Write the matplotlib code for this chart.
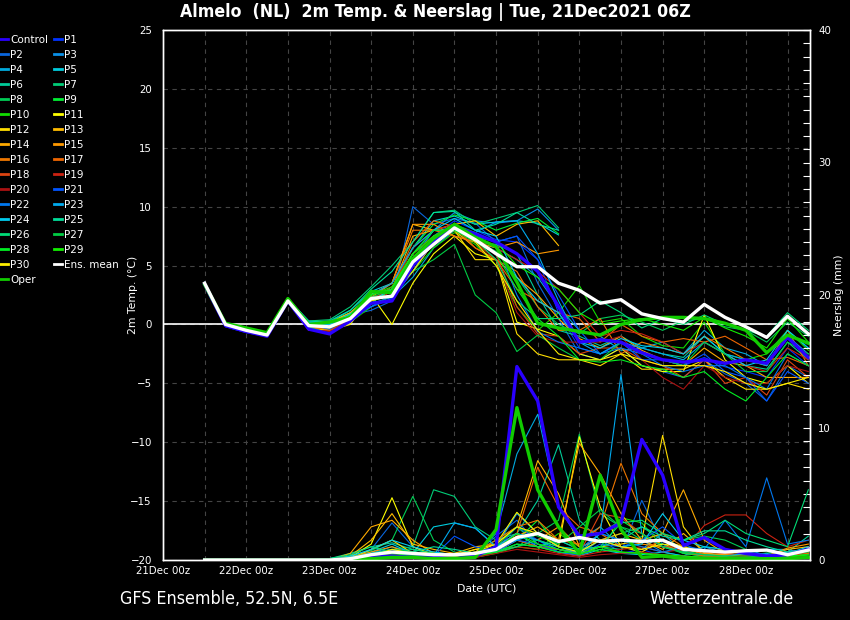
import numpy as np
import matplotlib
matplotlib.use('Agg')
import matplotlib.pyplot as plt
from matplotlib.lines import Line2D
from matplotlib.ticker import MultipleLocator

# tijd in dagen vanaf 21Dec 00z, 6-uurlijkse stappen (21Dec 12z .. 28Dec 18z)
t = 0.5 + 0.25 * np.arange(30)

day_labels = ['21Dec 00z', '22Dec 00z', '23Dec 00z', '24Dec 00z',
              '25Dec 00z', '26Dec 00z', '27Dec 00z', '28Dec 00z']

names = ['Control'] + ['P%d' % i for i in range(1, 31)]
colors = ['#2a00ff', '#0033ff', '#0a66dd', '#0a90e8', '#00aadd', '#00ccdd',
          '#00cc99', '#00cc77', '#00cc55', '#00ee33', '#11dd00', '#ffff00',
          '#ffdd00', '#ffbb00', '#ffaa00', '#ff9900', '#ee7700', '#ee6600',
          '#dd4411', '#cc2211', '#aa1111', '#0055ff', '#0077ee', '#00aaee',
          '#00ccee', '#00dd99', '#00dd77', '#00cc44', '#00ee22', '#11ee00',
          '#ffee00']

# 2m temperatuur (graden C)
t_ctrl = [3.4, -0.1, -0.6, -1.0, 2.0, -0.4, -0.8, 0.3, 1.8, 2.0, 5.0, 7.0, 8.3, 7.7, 7.0, 6.0, 4.5, 1.5, -1.5, -1.3, -1.5, -2.4, -3.0, -3.2, -3.0, -3.3, -3.0, -3.3, -1.1, -2.8]
t_p01 = [3.5, -0.2, -0.7, -1.0, 2.0, -0.2, -0.3, 0.5, 1.5, 2.2, 4.5, 7.5, 8.8, 8.0, 7.2, 7.0, 5.5, 1.0, -2.0, -2.5, -1.6, -2.4, -3.0, -3.5, -2.8, -3.6, -4.0, -4.5, -2.0, -3.5]
t_p02 = [3.5, 0.0, -0.5, -0.9, 2.1, 0.2, 0.0, 0.8, 1.2, 2.0, 10.0, 8.5, 9.0, 8.6, 7.0, 7.5, 3.5, 0.5, -2.5, -3.0, -2.0, -3.5, -4.0, -4.5, -3.0, -4.2, -5.0, -6.5, -3.5, -4.5]
t_p03 = [3.6, 0.1, -0.4, -0.8, 2.2, 0.3, 0.2, 1.0, 2.5, 3.0, 5.5, 8.0, 9.5, 8.8, 8.6, 8.8, 9.8, 8.0]
t_p04 = [3.5, 0.0, -0.6, -1.0, 2.0, 0.0, -0.2, 0.7, 1.8, 2.3, 4.0, 6.5, 8.0, 7.0, 6.5, 5.5, 4.0, 1.5, -0.5, -1.0, -2.2, -2.0, -1.5, -2.5, -0.5, -2.0, -2.5, -3.5, -0.5, -2.0]
t_p05 = [3.5, 0.1, -0.4, -0.7, 2.2, 0.2, 0.3, 1.2, 2.8, 3.5, 6.5, 8.8, 9.2, 8.5, 8.7, 8.8, 8.6, 7.6]
t_p06 = [3.4, 0.0, -0.5, -0.9, 2.0, 0.0, -0.3, 0.5, 2.0, 2.5, 5.5, 7.0, 8.0, 7.0, 6.8, 6.0, 2.5, -0.5, -1.0, -1.8, -1.0, -2.0, -2.5, -2.8, -1.0, -2.5, -3.5, -3.8, -1.5, -3.0]
t_p07 = [3.5, 0.1, -0.4, -0.8, 2.1, 0.3, 0.4, 1.5, 3.2, 5.0, 7.0, 9.5, 9.7, 8.5, 9.0, 9.5, 10.1, 8.2]
t_p08 = [3.5, 0.0, -0.5, -0.9, 2.1, 0.0, -0.5, 0.3, 2.2, 3.0, 6.0, 7.5, 8.5, 7.2, 6.2, 4.0, 1.5, 0.0, -0.8, 0.5, 0.8, 0.2, -0.5, 0.3, 0.5, -0.2, -0.5, -1.5, 0.2, -1.0]
t_p09 = [3.5, 0.0, -0.5, -0.9, 2.1, 0.1, 0.1, 1.0, 2.6, 3.0, 6.5, 8.5, 9.3, 8.8, 8.0, 8.6, 9.0, 7.7]
t_p10 = [3.4, 0.0, -0.6, -1.0, 2.0, -0.2, -0.6, 0.2, 1.5, 2.5, 4.5, 6.5, 7.8, 6.8, 5.0, 1.5, -0.5, 1.0, 3.3, 0.2, 0.5, -1.0, -1.8, -2.0, 0.2, -2.5, -3.0, -2.5, -0.5, -2.2]
t_p11 = [3.5, 0.0, -0.5, -0.9, 2.2, -0.3, -0.5, 0.0, 2.5, 0.0, 3.5, 6.0, 7.5, 6.0, 5.5, 0.2, -0.4, -1.0, -2.5, -3.0, -2.0, -3.5, -4.0, -4.0, 0.8, -3.0, -4.5, -5.0, -3.5, -5.0]
t_p12 = [3.5, 0.1, -0.4, -0.8, 2.1, -0.2, 0.2, 0.8, 2.0, 2.8, 4.5, 7.0, 8.0, 5.5, 5.5, -0.8, -2.5, -3.0, -3.0, -3.5, -2.5, -3.8, -3.8, -3.8, -3.0, -4.5, -5.5, -5.5, -5.0, -5.5]
t_p13 = [3.5, 0.0, -0.5, -0.9, 2.1, 0.0, 0.2, 1.0, 2.5, 3.5, 8.5, 8.0, 8.5, 8.8, 7.5, 8.5, 8.8, 6.7]
t_p14 = [3.5, 0.1, -0.5, -0.9, 2.0, 0.0, -0.2, 0.8, 2.0, 3.0, 7.5, 8.0, 8.0, 6.5, 5.5, 4.0, 2.5, 0.5, -1.2, -2.0, -1.0, -2.2, -3.0, -3.5, -2.0, -3.2, -3.5, -4.5, -4.5, -4.5]
t_p15 = [3.5, 0.0, -0.5, -0.9, 2.0, 0.1, 0.0, 0.8, 2.3, 3.5, 8.5, 8.5, 7.5, 7.0, 6.5, 7.0, 6.0, 6.3]
t_p16 = [3.5, 0.0, -0.5, -0.9, 2.0, -0.3, -0.4, 0.5, 2.5, 3.5, 8.0, 8.0, 7.5, 7.0, 5.5, 4.5, 1.5, -0.5, -0.5, 0.5, -2.5, -1.5, -2.0, -2.5, -1.0, -2.0, -3.0, -3.5, -0.5, -3.5]
t_p17 = [3.5, 0.0, -0.4, -0.8, 2.1, -0.3, -0.2, 0.8, 2.0, 3.0, 7.0, 8.8, 8.3, 6.5, 5.5, 3.0, 2.0, 1.0, 0.5, -1.5, 0.0, -1.0, -1.5, -1.2, -1.5, -1.0, -2.0, -3.0, -2.8, -3.5]
t_p18 = [3.5, 0.0, -0.5, -0.9, 2.0, -0.5, -0.5, 0.4, 2.0, 3.2, 6.0, 7.5, 8.0, 7.5, 6.0, 1.5, -0.8, -1.0, -2.5, -2.0, -2.0, -3.0, -3.5, -4.5, -3.0, -5.0, -4.5, -6.0, -3.0, -4.5]
t_p19 = [3.5, 0.0, -0.5, -0.9, 2.0, 0.0, -0.3, 0.6, 2.2, 3.0, 6.5, 8.0, 8.5, 7.5, 6.5, 5.5, 4.5, 3.0, 1.0, -1.0, -0.5, -0.8, -1.5, -2.5, -1.5, -2.5, -3.5, -4.0, -2.0, -3.0]
t_p20 = [3.5, 0.0, -0.5, -0.9, 2.0, -0.4, -0.6, 0.3, 2.0, 2.8, 6.0, 7.5, 8.5, 7.0, 5.5, 1.0, -1.0, -1.5, -1.5, -1.5, -1.0, -3.0, -4.5, -5.5, -3.5, -4.5, -5.0, -5.0, -3.5, -4.0]
t_p21 = [3.5, 0.0, -0.5, -0.9, 2.0, 0.0, -0.4, 0.6, 1.5, 2.2, 4.5, 7.0, 8.5, 7.5, 7.0, 7.5, 5.5, 2.5, -0.5, -2.5, -1.5, -3.0, -3.0, -3.5, -2.5, -4.0, -4.5, -6.5, -4.0, -5.0]
t_p22 = [3.5, 0.0, -0.5, -0.9, 2.0, 0.2, 0.0, 0.7, 1.5, 2.5, 5.0, 7.5, 8.5, 7.5, 7.0, 2.5, -0.6, -1.5, -2.0, -2.5, -2.0, -2.5, -3.5, -4.0, -3.5, -3.5, -4.5, -5.5, -2.5, -3.5]
t_p23 = [3.5, 0.0, -0.5, -0.9, 2.0, 0.0, -0.2, 0.8, 2.5, 3.5, 6.5, 8.0, 8.0, 7.8, 8.7, 8.8, 6.0, 2.0, -1.5, -2.5, -1.5, -2.0, -2.5, -3.0, -1.5, -2.5, -3.0, -3.5, -1.0, -2.5]
t_p24 = [3.5, 0.0, -0.5, -0.9, 2.0, 0.1, 0.0, 0.9, 2.0, 3.0, 6.0, 8.0, 9.0, 8.0, 7.5, 4.0, 2.0, 1.0, -1.5, -2.0, -1.2, -1.8, -2.0, -2.5, -1.0, -2.5, -3.5, -3.0, -0.5, -2.0]
t_p25 = [3.5, 0.0, -0.5, -0.9, 2.0, 0.2, 0.2, 1.2, 3.0, 4.5, 7.0, 9.5, 9.6, 8.0, 8.5, 9.5, 8.5, 8.0]
t_p26 = [3.5, 0.0, -0.5, -0.9, 2.0, -0.2, -0.8, 0.3, 1.8, 3.0, 5.5, 7.0, 8.0, 7.2, 5.5, 2.0, 0.5, 0.5, 0.8, 2.0, 1.0, -0.3, 0.5, 0.0, 0.8, 0.0, -0.5, -1.0, 1.0, -0.5]
t_p27 = [3.5, 0.0, -0.5, -0.9, 2.0, 0.0, -0.3, 0.6, 2.3, 3.0, 4.5, 5.5, 6.8, 2.5, 1.0, -2.3, -0.9, -2.0, -3.0, -3.0, -1.5, -2.5, -3.0, -3.5, -1.5, -2.5, -4.0, -4.0, -1.5, -2.5]
t_p28 = [3.5, 0.0, -0.5, -0.9, 2.0, 0.0, -0.2, 0.7, 2.5, 3.0, 6.0, 8.0, 8.0, 7.0, 6.0, 3.0, 0.5, -1.0, -3.0, -3.2, -3.0, -3.5, -3.8, -4.5, -4.0, -5.5, -6.5, -4.5, -2.5, -3.5]
t_p29 = [3.5, 0.0, -0.5, -0.9, 2.0, 0.0, -0.2, 0.8, 2.5, 3.2, 6.0, 7.5, 8.5, 7.8, 7.0, 5.0, 4.0, 3.0, 1.0, 0.0, 0.3, 0.5, 0.0, -0.5, 0.6, -0.3, -1.0, -2.0, 0.5, -1.5]
t_p30 = [3.5, 0.0, -0.5, -0.9, 2.0, 0.0, -0.3, 0.5, 2.0, 2.5, 4.5, 7.0, 8.5, 7.0, 5.0, 2.0, -0.5, -2.5, -3.0, -3.0, -2.5, -3.0, -3.5, -3.5, -3.5, -4.0, -5.0, -5.5, -5.0, -4.5]
t_mean = [3.5, 0.0, -0.5, -0.9, 2.0, -0.1, -0.2, 0.5, 2.2, 2.4, 5.3, 6.8, 8.2, 7.2, 6.0, 4.9, 4.9, 3.5, 2.9, 1.8, 2.1, 0.9, 0.5, 0.2, 1.7, 0.6, -0.2, -1.1, 0.7, -0.8]
t_oper = [3.4, 0.1, -0.3, -0.7, 2.2, 0.0, 0.2, 0.6, 2.8, 2.7, 5.6, 7.3, 8.5, 7.4, 6.6, 3.6, 0.1, -0.3, -0.6, -0.9, 0.0, 0.4, 0.6, 0.6, 0.5, 0.1, -0.5, -2.4, -0.9, -1.6]

# neerslag (mm per 6 uur)
p_ctrl = [0, 0, 0, 0, 0, 0, 0, 0.1, 0.2, 0.3, 0.2, 0.2, 0.1, 0.3, 1.0, 14.6, 12.0, 4.0, 1.8, 2.0, 2.8, 9.1, 6.4, 1.1, 1.7, 0.8, 0.5, 0.3, 0.4, 0.8]
p_p01 = [0, 0, 0, 0, 0, 0, 0, 0, 0.2, 0.5, 0.3, 0.2, 0.1, 0.3, 0.8, 2.5, 1.5, 0.6, 0.3, 1.0, 0.5, 0.8, 0.3, 0.2, 0.1, 0.2, 0.1, 0.3, 0.2, 0.4]
p_p02 = [0, 0, 0, 0, 0, 0, 0, 0.1, 0.8, 2.8, 1.0, 0.3, 0.2, 0.5, 1.8, 3.0, 1.2, 0.8, 0.4, 1.5, 0.6, 4.5, 1.2, 0.5, 0.3, 0.3, 0.4, 0.2, 0.3, 0.5]
p_p03 = [0, 0, 0, 0, 0, 0, 0, 0, 0.3, 0.6, 0.4, 0.3, 0.2, 0.4, 1.0, 3.5, 2.0, 1.5, 0.8, 2.0, 1.5, 1.5, 0.6, 0.3, 1.0, 0.5, 0.3, 0.8, 0.8, 0.4]
p_p04 = [0, 0, 0, 0, 0, 0, 0.1, 0.3, 0.5, 1.0, 0.6, 0.4, 0.3, 0.5, 2.0, 8.0, 11.0, 4.0, 1.5, 2.5, 1.0, 0.8, 2.0, 0.6, 0.3, 0.4, 0.3, 0.5, 0.2, 0.6]
p_p05 = [0, 0, 0, 0, 0, 0, 0, 0.2, 0.6, 1.2, 0.5, 2.5, 2.8, 2.4, 1.0, 2.0, 1.0, 0.6, 0.3, 0.8, 0.5, 0.4, 0.6, 0.3, 0.2, 0.3, 0.2, 0.1, 0.2, 0.4]
p_p06 = [0, 0, 0, 0, 0, 0, 0.1, 0.5, 1.0, 1.3, 0.8, 0.5, 0.4, 0.6, 1.5, 2.0, 4.5, 8.7, 3.0, 1.5, 2.0, 2.5, 1.5, 0.6, 1.0, 0.8, 0.5, 0.4, 0.6, 1.8]
p_p07 = [0, 0, 0, 0, 0, 0, 0, 0.2, 0.5, 0.8, 1.0, 5.3, 4.8, 2.5, 1.5, 2.5, 1.2, 0.8, 0.6, 1.0, 0.8, 1.8, 1.2, 0.5, 0.3, 0.8, 0.5, 0.3, 0.4, 0.6]
p_p08 = [0, 0, 0, 0, 0, 0, 0, 0.3, 0.7, 1.5, 4.8, 1.5, 0.6, 0.4, 0.8, 1.0, 2.0, 3.0, 9.5, 3.5, 2.5, 1.5, 2.0, 1.5, 1.8, 1.5, 0.8, 0.6, 0.5, 0.8]
p_p09 = [0, 0, 0, 0, 0, 0, 0, 0.1, 0.4, 0.6, 0.4, 0.3, 0.2, 0.3, 0.6, 1.5, 3.0, 1.0, 0.5, 2.0, 3.0, 2.0, 1.0, 0.5, 0.3, 0.4, 0.3, 0.2, 0.3, 0.4]
p_p10 = [0, 0, 0, 0, 0, 0, 0, 0.1, 0.3, 0.5, 0.3, 0.2, 0.2, 0.2, 0.5, 1.0, 0.8, 2.0, 1.0, 0.6, 3.2, 2.8, 1.0, 0.6, 0.5, 0.3, 0.2, 0.2, 0.3, 0.5]
p_p11 = [0, 0, 0, 0, 0, 0, 0, 0.2, 1.2, 4.7, 1.0, 0.4, 0.3, 0.8, 1.2, 3.6, 2.0, 1.0, 9.3, 4.0, 1.0, 0.6, 1.5, 1.0, 0.4, 0.8, 0.5, 0.3, 0.4, 0.6]
p_p12 = [0, 0, 0, 0, 0, 0, 0, 0.1, 0.8, 1.5, 0.5, 0.6, 0.4, 0.8, 0.6, 1.5, 1.0, 0.8, 0.5, 1.0, 1.2, 1.5, 9.4, 2.5, 0.5, 0.3, 0.4, 0.2, 0.3, 0.6]
p_p13 = [0, 0, 0, 0, 0, 0, 0, 0.3, 1.5, 3.5, 1.2, 0.8, 0.5, 1.0, 1.2, 2.5, 7.5, 5.0, 1.0, 1.5, 2.0, 1.5, 0.8, 2.0, 0.6, 0.5, 0.3, 0.3, 0.8, 1.0]
p_p14 = [0, 0, 0, 0, 0, 0, 0, 0.5, 2.5, 3.0, 1.5, 0.5, 0.3, 0.6, 1.0, 1.8, 2.5, 1.5, 8.8, 6.5, 3.5, 1.5, 2.0, 5.3, 1.5, 0.5, 0.3, 0.2, 0.6, 0.8]
p_p15 = [0, 0, 0, 0, 0, 0, 0, 0.2, 0.6, 1.0, 0.4, 0.3, 0.2, 0.5, 1.0, 2.0, 1.5, 2.5, 1.0, 1.5, 1.5, 1.2, 1.0, 0.8, 0.5, 0.4, 0.5, 0.3, 0.9, 1.2]
p_p16 = [0, 0, 0, 0, 0, 0, 0, 0.1, 0.4, 0.6, 0.3, 0.2, 0.2, 0.6, 1.5, 2.5, 3.0, 1.5, 1.2, 2.5, 7.3, 3.5, 2.0, 1.0, 0.4, 0.3, 0.2, 0.4, 0.5, 0.8]
p_p17 = [0, 0, 0, 0, 0, 0, 0, 0.1, 0.3, 0.5, 0.3, 0.2, 0.1, 0.4, 1.0, 2.0, 7.0, 4.0, 2.5, 2.0, 1.0, 0.8, 1.5, 0.6, 0.3, 0.2, 0.3, 0.2, 0.4, 0.5]
p_p18 = [0, 0, 0, 0, 0, 0, 0, 0.1, 0.2, 0.4, 0.2, 0.1, 0.1, 0.3, 0.8, 1.5, 1.0, 0.8, 0.5, 3.5, 3.2, 2.0, 1.0, 1.0, 0.6, 0.5, 0.3, 0.3, 0.2, 0.6]
p_p19 = [0, 0, 0, 0, 0, 0, 0, 0.1, 0.3, 0.5, 0.2, 0.1, 0.1, 0.2, 0.6, 1.0, 0.8, 0.5, 0.3, 0.6, 0.8, 1.0, 0.6, 0.8, 2.6, 3.4, 3.4, 2.0, 1.0, 1.5]
p_p20 = [0, 0, 0, 0, 0, 0, 0, 0, 0.1, 0.3, 0.2, 0.1, 0.1, 0.2, 0.5, 0.8, 0.6, 0.4, 0.2, 0.4, 0.5, 0.6, 0.4, 0.3, 0.2, 0.2, 0.3, 0.2, 0.2, 0.3]
p_p21 = [0, 0, 0, 0, 0, 0, 0, 0.1, 0.5, 0.8, 0.4, 0.3, 1.8, 1.0, 0.6, 1.5, 1.2, 0.6, 0.4, 1.2, 1.0, 1.5, 2.5, 1.2, 0.6, 0.8, 0.4, 0.3, 0.5, 0.8]
p_p22 = [0, 0, 0, 0, 0, 0, 0, 0.1, 0.4, 0.6, 0.3, 0.2, 0.2, 0.6, 1.0, 2.0, 1.5, 1.0, 0.8, 2.0, 1.5, 1.0, 0.6, 1.0, 0.8, 3.0, 1.0, 6.2, 1.2, 1.5]
p_p23 = [0, 0, 0, 0, 0, 0, 0.1, 0.2, 0.4, 0.6, 0.5, 0.3, 2.8, 2.4, 1.0, 2.0, 1.5, 0.8, 0.5, 2.0, 14.0, 2.0, 1.0, 0.6, 0.4, 0.3, 0.5, 0.3, 0.6, 0.8]
p_p24 = [0, 0, 0, 0, 0, 0, 0, 0.3, 0.8, 1.5, 1.0, 0.6, 0.4, 0.5, 1.0, 1.5, 2.0, 1.0, 0.6, 1.5, 1.0, 1.2, 3.5, 1.5, 1.0, 0.8, 0.6, 0.4, 0.5, 1.0]
p_p25 = [0, 0, 0, 0, 0, 0, 0, 0.2, 0.5, 0.8, 0.6, 1.0, 0.8, 0.5, 0.6, 1.2, 1.0, 1.5, 0.8, 1.0, 1.5, 2.5, 1.8, 1.5, 2.2, 2.2, 1.5, 1.0, 0.6, 0.8]
p_p26 = [0, 0, 0, 0, 0, 0, 0.1, 0.4, 1.0, 0.6, 0.8, 0.5, 0.3, 0.4, 0.6, 1.0, 1.5, 1.0, 0.8, 1.0, 2.8, 3.0, 2.0, 1.5, 2.0, 3.0, 2.0, 1.5, 1.0, 5.3]
p_p27 = [0, 0, 0, 0, 0, 0, 0, 0.1, 0.4, 0.8, 0.6, 0.4, 0.3, 0.4, 1.0, 2.5, 1.8, 1.2, 2.5, 3.8, 2.5, 2.0, 1.0, 0.6, 0.4, 0.3, 0.3, 0.2, 0.4, 0.6]
p_p28 = [0, 0, 0, 0, 0, 0, 0, 0.1, 0.3, 0.5, 0.3, 0.2, 0.2, 0.3, 0.6, 1.2, 1.0, 0.6, 0.5, 0.8, 0.6, 0.5, 0.3, 0.2, 0.2, 0.2, 0.1, 0.2, 0.3, 0.4]
p_p29 = [0, 0, 0, 0, 0, 0, 0, 0.1, 0.2, 0.4, 0.3, 0.2, 0.2, 0.3, 0.8, 2.0, 1.2, 0.8, 0.4, 1.0, 0.6, 0.5, 0.4, 0.3, 0.2, 0.2, 0.2, 0.1, 0.2, 0.4]
p_p30 = [0, 0, 0, 0, 0, 0, 0, 0.1, 0.3, 0.8, 0.5, 0.3, 0.2, 0.6, 1.2, 2.5, 2.0, 1.0, 0.6, 1.5, 1.0, 0.8, 1.2, 1.0, 0.6, 0.8, 0.5, 0.3, 0.4, 0.7]
p_mean = [0, 0, 0, 0, 0, 0, 0, 0.1, 0.4, 0.6, 0.5, 0.4, 0.4, 0.5, 0.8, 1.7, 2.0, 1.4, 1.7, 1.4, 1.5, 1.4, 1.5, 0.8, 0.7, 0.6, 0.7, 0.75, 0.4, 0.75]
p_oper = [0, 0, 0, 0, 0, 0, 0, 0.1, 0.1, 0.2, 0.2, 0.1, 0.1, 0.2, 2.3, 11.5, 5.3, 2.5, 0.5, 6.4, 2.3, 0.2, 0.3, 0.1, 0.1, 0.1, 0.1, 0.1, 0.1, 0.2]

temps = [t_ctrl, t_p01, t_p02, t_p03, t_p04, t_p05, t_p06, t_p07, t_p08, t_p09, t_p10,
         t_p11, t_p12, t_p13, t_p14, t_p15, t_p16, t_p17, t_p18, t_p19, t_p20,
         t_p21, t_p22, t_p23, t_p24, t_p25, t_p26, t_p27, t_p28, t_p29, t_p30]
precs = [p_ctrl, p_p01, p_p02, p_p03, p_p04, p_p05, p_p06, p_p07, p_p08, p_p09, p_p10,
         p_p11, p_p12, p_p13, p_p14, p_p15, p_p16, p_p17, p_p18, p_p19, p_p20,
         p_p21, p_p22, p_p23, p_p24, p_p25, p_p26, p_p27, p_p28, p_p29, p_p30]

plt.rcParams['font.family'] = 'DejaVu Sans'
W, H = 850, 620
fig = plt.figure(figsize=(W / 100, H / 100), dpi=100, facecolor='black')
ax = fig.add_axes([163 / W, 60 / H, 647 / W, 530 / H], facecolor='black')
ax2 = ax.twinx()

thin = 0.8
thick = 2.4
# leden (dun), daarna control, oper en gemiddelde (dik)
for i in range(1, 31):
    n = len(temps[i])
    ax.plot(t[:n], temps[i], color=colors[i], lw=thin)
    ax2.plot(t, precs[i], color=colors[i], lw=thin)
ax.plot(t, t_ctrl, color=colors[0], lw=thick)
ax2.plot(t, p_ctrl, color=colors[0], lw=thick)
ax.plot(t, t_oper, color='#11cc00', lw=thick)
ax2.plot(t, p_oper, color='#11cc00', lw=thick)
ax.plot(t, t_mean, color='white', lw=thick)
ax2.plot(t, p_mean, color='white', lw=thick)

ax.axhline(0, color='white', lw=1.2, zorder=1)

ax.set_xlim(0, 7.77)
ax.set_ylim(-20, 25)
ax2.set_ylim(0, 40)

ax.set_xticks(range(8))
ax.set_xticklabels(day_labels)
ax.xaxis.set_minor_locator(MultipleLocator(0.5))
ax.set_yticks(range(-20, 26, 5))
ax.grid(True, which='both', axis='x', color='#444444', ls=(0, (4, 4)), lw=0.8)
ax.grid(True, which='major', axis='y', color='#444444', ls=(0, (4, 4)), lw=0.8)
ax.set_axisbelow(True)

ax2.set_yticks([0, 10, 20, 30, 40])
ax2.yaxis.set_minor_locator(MultipleLocator(1))

ax.tick_params(axis='both', which='both', length=0, colors='white', labelsize=8.2, pad=4)
ax.tick_params(axis='y', pad=8)
ax2.tick_params(axis='y', which='both', direction='in', length=5, width=0.8,
                colors='white', labelsize=8.2, pad=6)
for lab in ax.get_xticklabels() + ax.get_yticklabels() + ax2.get_yticklabels():
    lab.set_fontstretch('condensed')

for a in (ax, ax2):
    for sp in a.spines.values():
        sp.set_color('white')
        sp.set_linewidth(1)

ax.set_xlabel('Date (UTC)', color='white', fontsize=7.8, labelpad=6)
ax.set_ylabel('2m Temp. (°C)', color='white', fontsize=7.8)
ax2.set_ylabel('Neerslag (mm)', color='white', fontsize=7.8)
ax.yaxis.set_label_coords(-0.0386, 0.5)
ax2.yaxis.set_label_coords(1.037, 0.5)

fig.text(435 / W, 1 - 12 / H, 'Almelo  (NL)  2m Temp. & Neerslag | Tue, 21Dec2021 06Z',
         color='white', fontsize=12.7, fontweight='bold', ha='center', va='center',
         fontstretch='condensed')
fig.text(120 / W, 1 - 599 / H, 'GFS Ensemble, 52.5N, 6.5E', color='white',
         fontsize=12.8, ha='left', va='center', fontstretch='condensed')
fig.text(794 / W, 1 - 599 / H, 'Wetterzentrale.de', color='white',
         fontsize=12.8, ha='right', va='center', fontstretch='condensed')

# legenda, rijgewijs in twee kolommen
handles = [Line2D([], [], color=c, lw=2) for c in colors]
handles += [Line2D([], [], color='white', lw=2), Line2D([], [], color='#11cc00', lw=2)]
labels = names + ['Ens. mean', 'Oper']
order = list(range(0, 33, 2)) + list(range(1, 33, 2))
leg = fig.legend([handles[i] for i in order], [labels[i] for i in order],
                 loc='upper left', bbox_to_anchor=(0, 1 - 35 / H), ncol=2,
                 frameon=False, fontsize=7.5, handlelength=0.8, handletextpad=0.15,
                 labelspacing=0.48, columnspacing=0.6, borderpad=0, borderaxespad=0)
for txt in leg.get_texts():
    txt.set_color('white')

fig.savefig('out.png', dpi=100, facecolor='black')
